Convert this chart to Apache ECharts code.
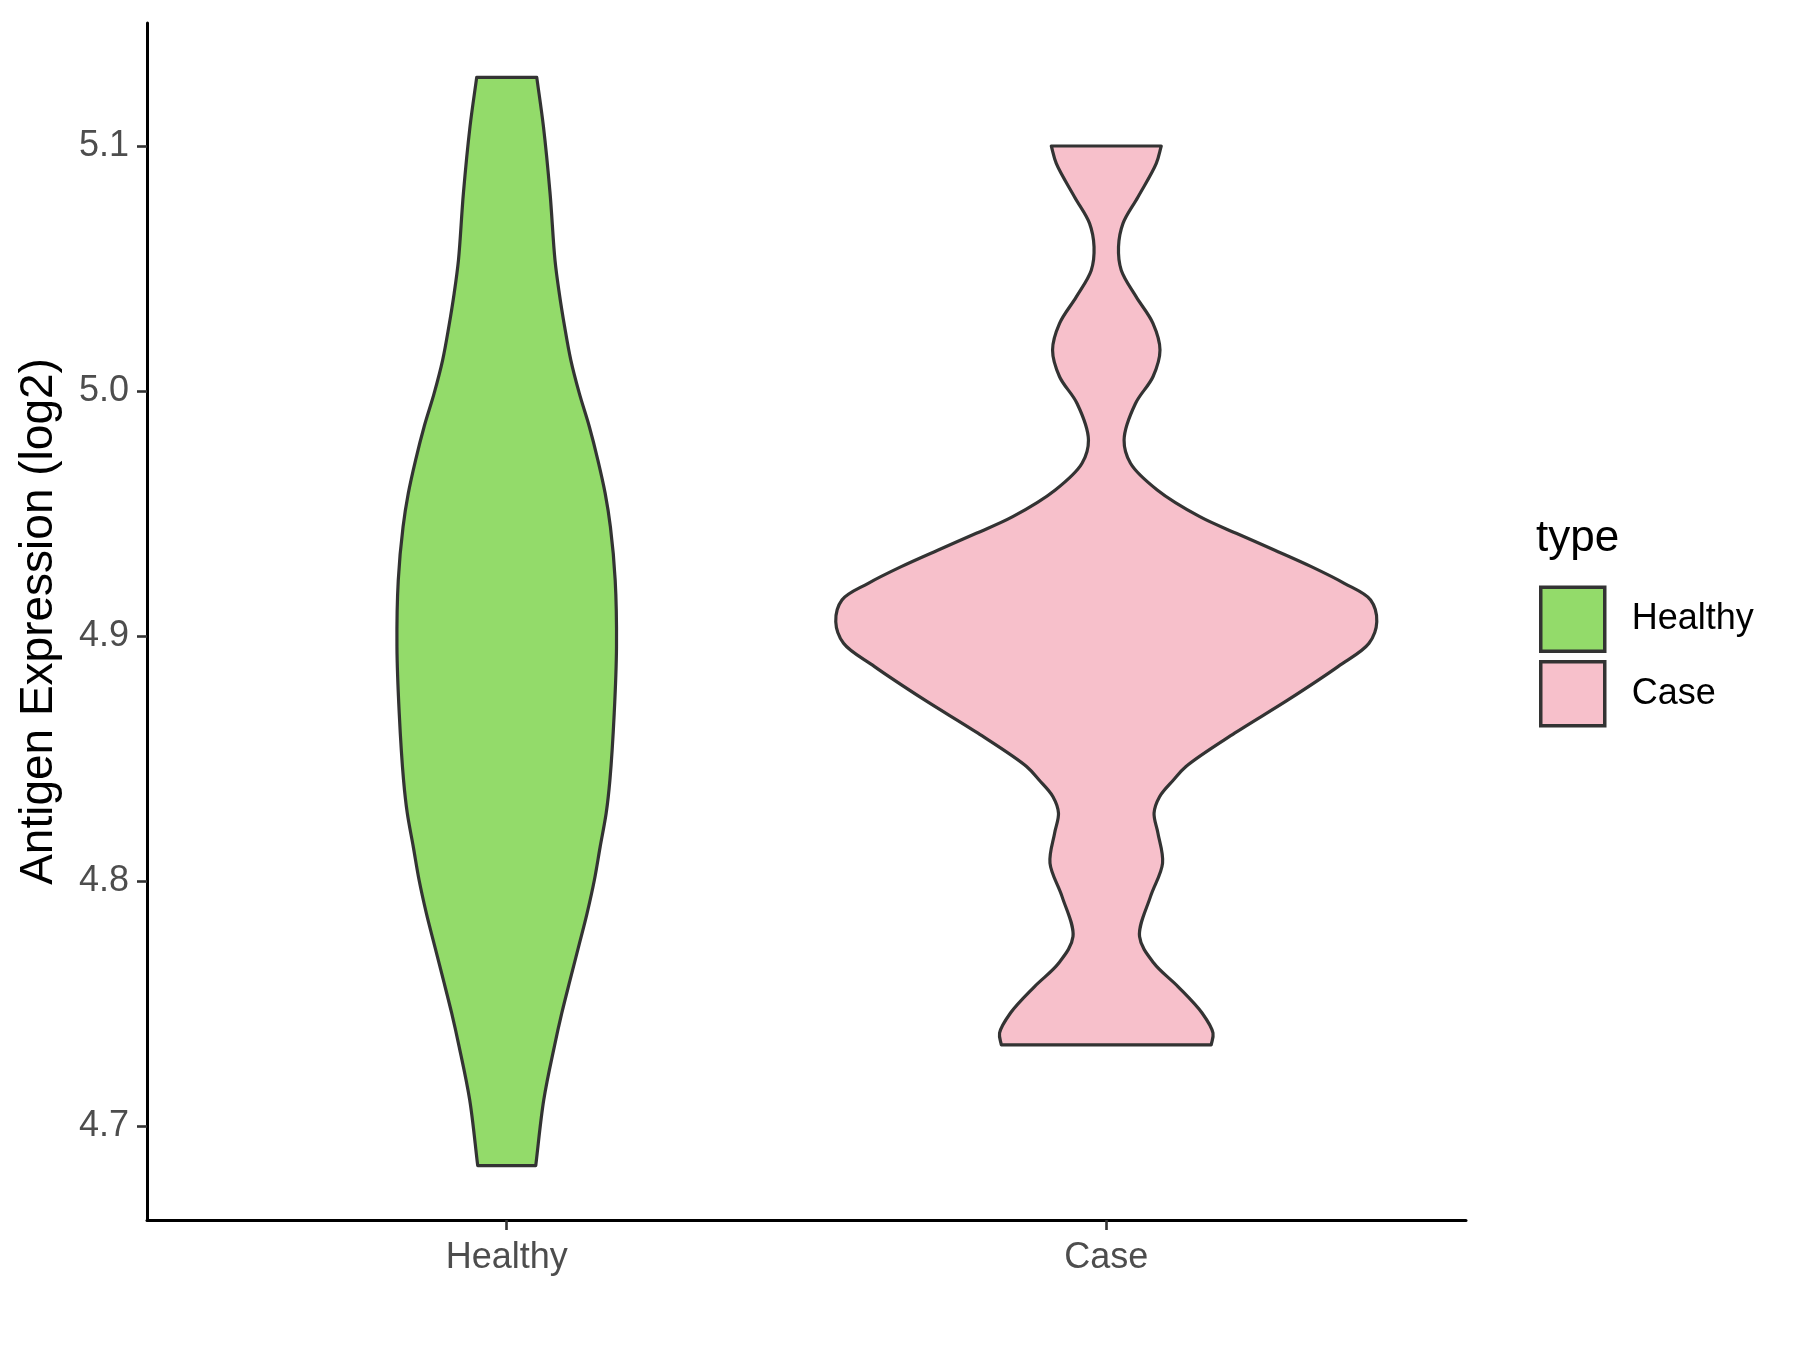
<!DOCTYPE html>
<html>
<head>
<meta charset="utf-8">
<script src="https://cdn.jsdelivr.net/npm/echarts@6/dist/echarts.min.js"></script>
<style>html,body{margin:0;padding:0;background:#fff;}#chart{width:1800px;height:1350px;}</style>
</head>
<body>
<div id="chart"></div>
<script>
// ---------- data ----------
const categories = ['Healthy', 'Case'];
const yTicks = [4.7, 4.8, 4.9, 5.0, 5.1];

// Healthy violin outline: expression level and half-width (density, in category-axis units)
const healthyY = [5.128, 5.1078, 5.0806, 5.0534, 5.0398, 5.0262, 5.0126, 4.9990, 4.9854, 4.9718, 4.9582, 4.9446, 4.9228, 4.8956, 4.8685, 4.8412, 4.8277, 4.8140, 4.8004, 4.7869, 4.7732, 4.7596, 4.7461, 4.7324, 4.7107, 4.6838];
const healthyW = [0.0501, 0.0613, 0.0723, 0.0805, 0.0877, 0.0966, 0.1069, 0.1211, 0.1378, 0.1520, 0.1642, 0.1729, 0.1809, 0.1831, 0.1793, 0.1721, 0.1659, 0.1559, 0.1462, 0.1341, 0.1199, 0.1057, 0.0919, 0.0794, 0.0618, 0.0484];

// Case violin outline
const caseY = [5.1000, 5.0929, 5.0792, 5.0684, 5.0588, 5.0493, 5.0384, 5.0276, 5.0167, 5.0058, 4.9949, 4.9800, 4.9705, 4.9596, 4.9487, 4.9419, 4.9351, 4.9283, 4.9215, 4.9147, 4.9058, 4.8970, 4.8875, 4.8739, 4.8603, 4.8467, 4.8412, 4.8344, 4.8277, 4.8195, 4.8073, 4.7936, 4.7773, 4.7665, 4.7569, 4.7461, 4.7379, 4.7331];
const caseW = [0.0917, 0.0834, 0.0529, 0.0279, 0.0204, 0.0250, 0.0500, 0.0779, 0.0896, 0.0779, 0.0487, 0.0297, 0.0404, 0.0850, 0.1560, 0.2168, 0.2802, 0.3420, 0.3970, 0.4409, 0.4512, 0.4382, 0.3865, 0.3031, 0.2140, 0.1330, 0.1120, 0.0889, 0.0797, 0.0862, 0.0939, 0.0737, 0.0555, 0.0792, 0.1196, 0.1598, 0.1780, 0.1751];

const groups = [
  { name: 'Healthy', pos: 1, ys: healthyY, ws: healthyW, color: '#93DB6A' },
  { name: 'Case', pos: 2, ys: caseY, ws: caseW, color: '#F7C0CB' }
];

const FONT = '"Liberation Sans", Arial, Helvetica, sans-serif';

// centripetal Catmull-Rom through pixel points, as cubic Bezier path commands
function crPath(pts, moveFirst) {
  const n = pts.length;
  let d = (moveFirst ? 'M' : 'L') + pts[0][0] + ' ' + pts[0][1];
  const get = i => {
    if (i < 0) return [2 * pts[0][0] - pts[1][0], 2 * pts[0][1] - pts[1][1]];
    if (i > n - 1) return [2 * pts[n - 1][0] - pts[n - 2][0], 2 * pts[n - 1][1] - pts[n - 2][1]];
    return pts[i];
  };
  const dist = (a, b) => Math.max(Math.pow(Math.hypot(b[0] - a[0], b[1] - a[1]), 0.5), 1e-6);
  for (let i = 0; i < n - 1; i++) {
    const p0 = get(i - 1), p1 = get(i), p2 = get(i + 1), p3 = get(i + 2);
    const d1 = dist(p0, p1), d2 = dist(p1, p2), d3 = dist(p2, p3);
    const c1 = [0, 1].map(k => (d1 * d1 * p2[k] - d2 * d2 * p0[k] + (2 * d1 * d1 + 3 * d1 * d2 + d2 * d2) * p1[k]) / (3 * d1 * (d1 + d2)));
    const c2 = [0, 1].map(k => (d3 * d3 * p1[k] - d2 * d2 * p3[k] + (2 * d3 * d3 + 3 * d3 * d2 + d2 * d2) * p2[k]) / (3 * d3 * (d3 + d2)));
    d += ' C' + c1[0] + ' ' + c1[1] + ' ' + c2[0] + ' ' + c2[1] + ' ' + p2[0] + ' ' + p2[1];
  }
  return d;
}

function makeRender(g) {
  return function (params, api) {
    const right = g.ys.map((y, i) => api.coord([g.pos + g.ws[i], y]));
    const left = g.ys.map((y, i) => api.coord([g.pos - g.ws[i], y])).reverse();
    const d = crPath(right, true) + ' ' + crPath(left, false) + ' Z';
    return {
      type: 'path',
      shape: { pathData: d },
      style: { fill: g.color, stroke: '#333333', lineWidth: 3.2, lineJoin: 'round' }
    };
  };
}

const chart = echarts.init(document.getElementById('chart'), null, { renderer: 'canvas' });

const option = {
  backgroundColor: '#ffffff',
  animation: false,
  grid: { left: 147, right: 334, top: 23, bottom: 130, containLabel: false },
  xAxis: {
    type: 'value', min: 0.4, max: 2.6,
    splitLine: { show: false },
    axisLine: { show: true, onZero: false, lineStyle: { color: '#000000', width: 3 } },
    axisTick: { show: true, customValues: [1, 2], length: 10, lineStyle: { color: '#333333', width: 2.6 } },
    axisLabel: {
      customValues: [1, 2], margin: 20, fontSize: 36, color: '#4D4D4D', fontFamily: FONT,
      formatter: v => categories[Math.round(v) - 1]
    }
  },
  yAxis: {
    type: 'value', min: 4.6616, max: 5.1502,
    name: 'Antigen Expression (log2)', nameLocation: 'middle', nameGap: 85,
    nameTextStyle: { fontSize: 46, color: '#000000', fontFamily: FONT },
    splitLine: { show: false },
    axisLine: { show: true, onZero: false, lineStyle: { color: '#000000', width: 3 } },
    axisTick: { show: true, customValues: yTicks, length: 10, lineStyle: { color: '#333333', width: 2.6 } },
    axisLabel: {
      customValues: yTicks, margin: 18, fontSize: 36, color: '#4D4D4D', fontFamily: FONT,
      formatter: v => v.toFixed(1)
    }
  },
  legend: {
    orient: 'vertical', left: 1539, top: 585.5, padding: 0,
    itemWidth: 64, itemHeight: 64, itemGap: 7, icon: 'rect',
    itemStyle: { borderColor: '#333333', borderWidth: 3.5 },
    textStyle: { fontSize: 36, color: '#000000', fontFamily: FONT, padding: [0, 0, 0, 22] },
    data: categories
  },
  graphic: [{
    type: 'text', left: 1536, top: 517,
    style: { text: 'type', fontSize: 44, fill: '#000000', fontFamily: FONT }
  }],
  series: groups.map(g => ({
    type: 'custom', name: g.name,
    coordinateSystem: 'cartesian2d',
    itemStyle: { color: g.color },
    data: [[g.pos, g.ys[0]]],
    renderItem: makeRender(g),
    silent: true
  }))
};
chart.setOption(option);
</script>
</body>
</html>
